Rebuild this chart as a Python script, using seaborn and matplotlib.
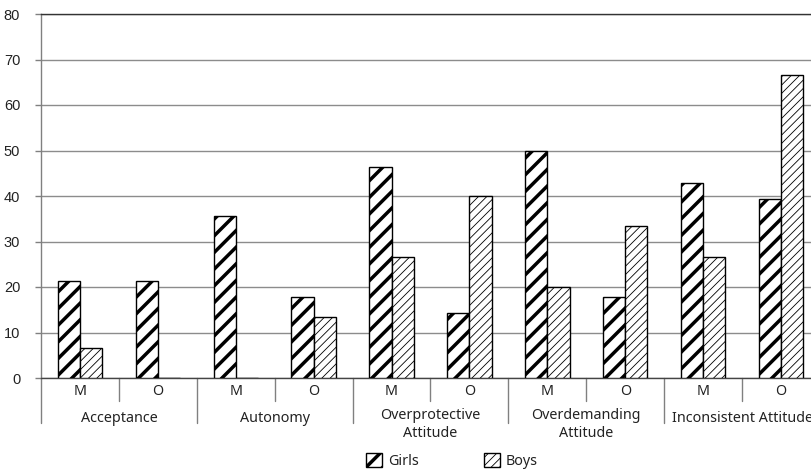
import numpy as np
import pandas as pd
import matplotlib
matplotlib.use("Agg")
import matplotlib.pyplot as plt
import matplotlib.transforms as mtransforms
from matplotlib.patches import Patch
import seaborn as sns

groups = ["Acceptance", "Autonomy", "Overprotective\nAttitude",
          "Overdemanding\nAttitude", "Inconsistent Attitude"]
subgroups = ["M", "O"]
series = ["Girls", "Boys"]
girls = [21.4, 21.4, 35.7, 17.9, 46.4, 14.3, 50.0, 17.9, 42.9, 39.3]
boys = [6.7, 0.0, 0.0, 13.3, 26.7, 40.0, 20.0, 33.3, 26.7, 66.7]
yticks = [0, 10, 20, 30, 40, 50, 60, 70, 80]

slots = [f"{g}|{s}" for g in groups for s in subgroups]
df = pd.DataFrame({
    "slot": slots * 2,
    "value": girls + boys,
    "series": ["Girls"] * len(slots) + ["Boys"] * len(slots),
})

sns.set_theme(style="white")
plt.rcParams["font.family"] = ["Noto Sans", "DejaVu Sans"]

W, H = 812, 474
fig = plt.figure(figsize=(W / 100, H / 100), dpi=100)
x0, y0, y1 = 41, 378, 14
ax = fig.add_axes([x0 / W, 1 - y0 / H, 1 - x0 / W, (y0 - y1) / H])

sns.barplot(data=df, x="slot", y="value", hue="series", order=slots,
            hue_order=series, palette=["white", "white"], width=0.57,
            edgecolor="black", linewidth=1.0, saturation=1, ax=ax,
            legend=False, errorbar=None)

hatches = {"Girls": ("//", 2.5), "Boys": ("////", 0.6)}
for cont, s in zip(ax.containers, series):
    h, lw = hatches[s]
    for p in cont.patches:
        p.set_hatch(h)
        if hasattr(p, "set_hatch_linewidth"):
            p.set_hatch_linewidth(lw)
        p.set_zorder(3)

slot_w = 77.9
ax.set_xlim(-0.5, -0.5 + (W - x0) / slot_w)
ax.set_ylim(0, 80)
ax.set_yticks(yticks)
ax.set_yticklabels([str(v) for v in yticks], family=["Liberation Sans"],
                   fontsize=10.5, color="#222222")
ax.tick_params(axis="y", length=4, width=1, color="#808080", pad=11, left=True)
ax.set_xticks([])
ax.set_xlabel("")
ax.set_ylabel("")
ax.yaxis.grid(True, color="#8c8c8c", lw=1)
ax.set_axisbelow(True)
ax.spines["right"].set_visible(False)
ax.spines["top"].set_color("#333333")
ax.spines["bottom"].set_color("#444444")
ax.spines["left"].set_color("#808080")
for sp in ax.spines.values():
    sp.set_linewidth(1)

ah = y0 - y1
trans = mtransforms.blended_transform_factory(ax.transData, ax.transAxes)
for k in range(len(slots) + 1):
    xb = k - 0.5
    ybot = -(423 - y0) / ah if k % 2 == 0 else -(401 - y0) / ah
    ax.plot([xb, xb], [0, ybot], transform=trans, color="#808080", lw=1,
            clip_on=False)
for i, s in enumerate(slots):
    ax.text(i, -(391.5 - y0) / ah, s.split("|")[1], transform=trans,
            ha="center", va="center", fontsize=10.3, color="#222222")
for j, g in enumerate(groups):
    yc = 424.5 if "\n" in g else 418.3
    ax.text(2 * j + 0.5, -(yc - y0) / ah, g, transform=trans, ha="center",
            va="center", fontsize=10.3, color="#222222", linespacing=1.35)

handles = [Patch(facecolor="white", edgecolor="black", hatch=hatches[s][0], lw=1)
           for s in series]
leg = fig.legend(handles, series, loc="center",
                 bbox_to_anchor=(452 / W, 1 - 461 / H),
                 ncol=2, frameon=False, handlelength=1.1, handleheight=1.1,
                 handletextpad=0.4, columnspacing=4.6, fontsize=10.3,
                 labelcolor="#222222")
for p, s in zip(leg.get_patches(), series):
    if hasattr(p, "set_hatch_linewidth"):
        p.set_hatch_linewidth(hatches[s][1])

fig.savefig("out.png", dpi=100)
